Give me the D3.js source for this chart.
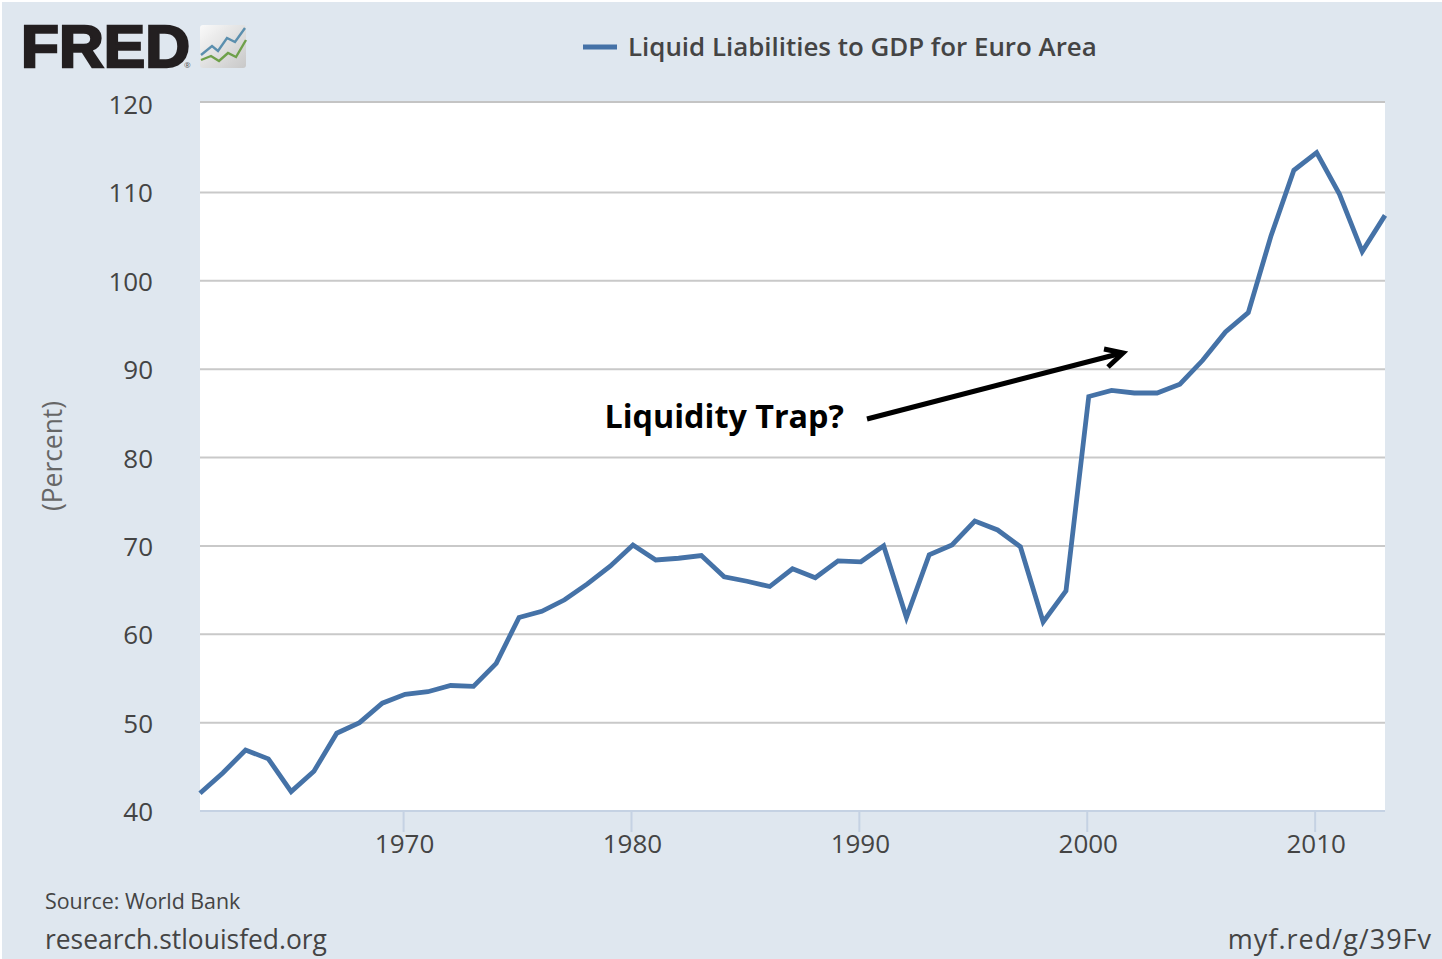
<!DOCTYPE html>
<html><head><meta charset="utf-8">
<script src="https://cdn.jsdelivr.net/npm/d3@7"></script>
<style>
html,body{margin:0;padding:0;background:#fff;overflow:hidden}
text{font-family:"Open Sans",sans-serif}
</style></head><body><div id="c"></div>
<script>
const years = d3.range(1961, 2014);
const values = [42.0,44.3,46.9,45.9,42.2,44.5,48.8,50.0,52.2,53.2,53.5,54.2,54.1,56.7,61.9,62.6,63.9,65.7,67.7,70.1,68.4,68.6,68.9,66.5,66.0,65.4,67.4,66.4,68.3,68.2,70.0,61.9,69.0,70.1,72.8,71.8,69.9,61.4,64.9,86.9,87.6,87.3,87.3,88.3,91.0,94.2,96.4,105.1,112.5,114.5,109.8,103.3,107.4];
const yTicks = [40,50,60,70,80,90,100,110,120];
const xTicks = [1970,1980,1990,2000,2010];
const seriesName = "Liquid Liabilities to GDP for Euro Area";
const annotation = "Liquidity Trap?";
const yTitle = "(Percent)";
const sourceText = "Source: World Bank";
const siteText = "research.stlouisfed.org";
const linkText = "myf.red/g/39Fv";

const W=1442,H=959,L=200,R=1385,T=102,B=811;
const x=d3.scaleLinear().domain([1961,2013]).range([L,R]);
const y=d3.scaleLinear().domain([40,120]).range([B,104]);
const svg=d3.select("#c").append("svg").attr("width",W).attr("height",H).style("display","block");
svg.append("rect").attr("x",2).attr("y",2).attr("width",W-2).attr("height",H-2).attr("fill","#dfe7ef");
svg.append("rect").attr("x",L).attr("y",T).attr("width",R-L).attr("height",B-T).attr("fill","#fff");

// grid
svg.append("g").selectAll("line").data(yTicks.filter(d=>d>40&&d<120)).join("line")
 .attr("x1",L).attr("x2",R).attr("y1",d=>y(d)).attr("y2",d=>y(d))
 .attr("stroke","#c9c9c9").attr("stroke-width",2);
svg.append("line").attr("x1",L).attr("x2",R).attr("y1",T).attr("y2",T).attr("stroke","#c4c4c4").attr("stroke-width",2);

// y labels
svg.append("g").selectAll("text").data(yTicks).join("text")
 .attr("x",153).attr("y",d=>y(d)+10).attr("text-anchor","end")
 .attr("font-size",26).attr("fill","#444").text(d=>d);

// x axis
const xa=svg.append("g").attr("transform",`translate(0,${B})`)
 .call(d3.axisBottom(x).tickValues(xTicks).tickFormat(d3.format("d")).tickSize(21).tickPadding(3).offset(-1.5));
xa.select(".domain").attr("stroke","#c5d2e3").attr("stroke-width",2).attr("d",`M${L},0H${R}`);
xa.selectAll(".tick line").attr("stroke","#c5d2e3").attr("stroke-width",2);
xa.selectAll(".tick text").attr("font-size",26).attr("fill","#444").attr("dx",1).attr("font-family",'"Open Sans",sans-serif');

// series
svg.append("path").datum(values).attr("fill","none").attr("stroke","#4572a7").attr("stroke-width",4.8)
 .attr("stroke-linejoin","miter")
 .attr("d",d3.line().x((d,i)=>x(years[i])).y(d=>y(d)));

// y title
svg.append("text").attr("transform","translate(61.5,456) rotate(-90)").attr("text-anchor","middle")
 .attr("font-size",26.4).attr("fill","#666").text(yTitle);

// legend
svg.append("line").attr("x1",583).attr("x2",617).attr("y1",47).attr("y2",47).attr("stroke","#4572a7").attr("stroke-width",4.8);
svg.append("text").attr("x",628).attr("y",56).attr("font-size",25.9).attr("font-weight",600).attr("fill","#444").text(seriesName);

// annotation
svg.append("text").attr("x",604.5).attr("y",428).attr("font-size",32.3).attr("font-weight",700).attr("fill","#000").text(annotation);
svg.append("line").attr("x1",867).attr("y1",419).attr("x2",1122).attr("y2",353).attr("stroke","#000").attr("stroke-width",5);
svg.append("path").attr("d","M1104,349L1123,353L1108,367").attr("fill","none").attr("stroke","#000").attr("stroke-width",5);

// footer
svg.append("text").attr("x",45).attr("y",909).attr("font-size",21.4).attr("fill","#444").text(sourceText);
svg.append("text").attr("x",45).attr("y",949).attr("font-size",26.4).attr("fill","#444").text(siteText);
svg.append("text").attr("x",1432).attr("y",949).attr("text-anchor","end").attr("font-size",27).attr("letter-spacing",1).attr("fill","#444").text(linkText);

// FRED logo
svg.append("text").attr("x",21).attr("y",67).attr("font-size",60).attr("font-weight",700)
 .attr("textLength",169).attr("lengthAdjust","spacingAndGlyphs")
 .style("font-family",'"Liberation Sans",sans-serif').attr("fill","#231f20").attr("stroke","#231f20").attr("stroke-width",2.4).text("FRED");
svg.append("text").attr("x",184).attr("y",68).attr("font-size",8).attr("fill","#555").text("®");
const grad=svg.append("defs").append("linearGradient").attr("id","lg").attr("x1",0).attr("y1",0).attr("x2",1).attr("y2",1);
grad.append("stop").attr("offset","0%").attr("stop-color","#fafafa");
grad.append("stop").attr("offset","100%").attr("stop-color","#c8c8c8");
svg.append("rect").attr("x",200).attr("y",25).attr("width",46).attr("height",43).attr("rx",3).attr("fill","url(#lg)");
svg.append("polyline").attr("points","201,55 212,46 218,51 227,38 235,42 245,28").attr("fill","none").attr("stroke","#5b8fae").attr("stroke-width",2.4);
svg.append("polyline").attr("points","201,60 211,56 219,61 228,53 236,57 246,40").attr("fill","none").attr("stroke","#6ea04a").attr("stroke-width",2.4);
</script></body></html>
